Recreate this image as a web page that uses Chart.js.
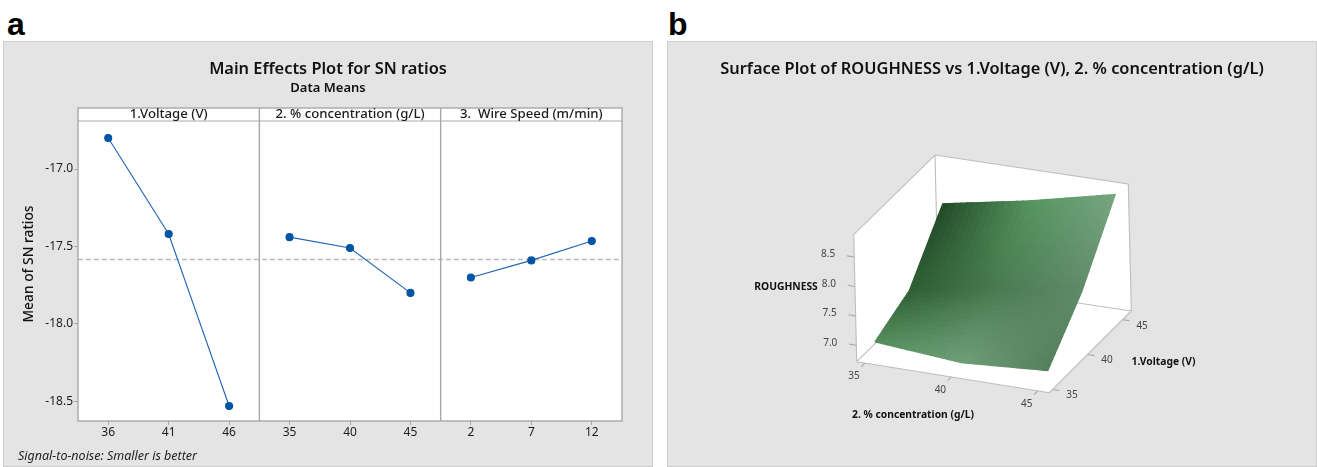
<!DOCTYPE html>
<html>
<head>
<meta charset="utf-8">
<style>
html,body{margin:0;padding:0;background:#fff;width:1317px;height:467px;overflow:hidden}
.panel{position:absolute;top:41px;width:650px;height:426px;background:#e4e4e4;box-shadow:inset 0 0 0 1px #cfcfcf}
.panel canvas{position:absolute;left:0;top:0}
.tag{position:absolute;font:bold 32px "Liberation Sans",sans-serif;color:#000;line-height:32px;top:8px}
</style>
</head>
<body>
<div class="tag" style="left:7px">a</div>
<div class="tag" style="left:668px">b</div>
<div class="panel" style="left:3px"><canvas id="effects" width="650" height="426"></canvas></div>
<div class="panel" style="left:667px"><canvas id="surface" width="650" height="426"></canvas></div>
<script src="https://cdn.jsdelivr.net/npm/chart.js@4/dist/chart.umd.min.js"></script>
<script>
// ---- Main effects data ----
const facetNames = ['1.Voltage (V)', '2. % concentration (g/L)', '3.  Wire Speed (m/min)'];
const levelLabels = ['36', '41', '46', '35', '40', '45', '2', '7', '12'];
const voltageSN = [-16.80, -17.42, -18.53];
const concentrationSN = [-17.44, -17.51, -17.80];
const wireSpeedSN = [-17.70, -17.59, -17.465];
const meanSN = -17.58;
const snTicks = [-18.5, -18.0, -17.5, -17.0];

// ---- Surface data ----
const concLevels = [35, 40, 45];
const voltLevels = [36, 41, 46];
const roughness = [            // rows: voltage, columns: concentration
  [6.91, 6.79, 6.89],
  [7.20, 7.45, 7.64],
  [8.10, 8.37, 8.70]
];
const surfaceShades = [
  ['#558d5e', '#6f9f79', '#557f5c'],
  ['#2e5f34', '#497a50', '#5f8b68'],
  ['#214a26', '#569460', '#77a681']
];
const concTicks = [35, 40, 45];
const voltTicks = [35, 40, 45];
const roughTicks = [7.0, 7.5, 8.0, 8.5];

const uiFont = '"Noto Sans", sans-serif';
const ink = '#1c1c1c';
const frame = '#a8a8a8';

// ---- Chart a ----
const pad = (arr, before) => [...Array(before).fill(null), ...arr, ...Array(6 - before).fill(null)];
const effectSeries = (arr, before) => ({
  data: pad(arr, before), borderColor: '#1f63b5', borderWidth: 1.1,
  pointBackgroundColor: '#0054a6', pointBorderColor: '#0054a6', pointRadius: 3.5, tension: 0
});
const facetPlugin = {
  id: 'facets',
  beforeDatasetsDraw(chart) {
    const {ctx, chartArea: a, scales: {x, y}} = chart;
    const step = x.getPixelForTick(1) - x.getPixelForTick(0);
    ctx.save();
    ctx.fillStyle = '#fff';
    ctx.fillRect(a.left, a.top - 13, a.width, a.height + 13);
    ctx.strokeStyle = '#bdbdbd'; ctx.lineWidth = 1.3; ctx.setLineDash([5, 3]);
    const my = Math.round(y.getPixelForValue(meanSN)) + 0.5;
    ctx.beginPath(); ctx.moveTo(a.left, my); ctx.lineTo(a.right, my); ctx.stroke();
    ctx.setLineDash([]);
    ctx.strokeStyle = frame; ctx.lineWidth = 1.4;
    ctx.strokeRect(a.left, a.top - 13, a.width, a.height + 13);
    ctx.lineWidth = 1;
    ctx.beginPath(); ctx.moveTo(a.left, a.top); ctx.lineTo(a.right, a.top); ctx.stroke();
    ctx.textAlign = 'center'; ctx.textBaseline = 'middle';
    facetNames.forEach((name, i) => {
      const first = x.getPixelForTick(i * 3) - step / 2;
      if (i > 0) {
        ctx.lineWidth = 1.4;
        ctx.beginPath(); ctx.moveTo(first, a.top - 13); ctx.lineTo(first, a.bottom); ctx.stroke();
      }
      ctx.fillStyle = ink; ctx.font = '500 13.2px ' + uiFont;
      ctx.fillText(name, first + step * 1.5, a.top - 6.5);
    });
    ctx.fillStyle = '#111';
    ctx.font = '600 16.4px ' + uiFont;
    ctx.fillText('Main Effects Plot for SN ratios', 325, 28);
    ctx.font = '600 13px ' + uiFont;
    ctx.fillText('Data Means', 325, 47);
    ctx.save();
    ctx.translate(26, 223);
    ctx.rotate(-Math.PI / 2);
    ctx.font = '500 13.8px ' + uiFont;
    ctx.fillText('Mean of SN ratios', 0, 0);
    ctx.restore();
    ctx.textAlign = 'left';
    ctx.font = 'italic 12.5px ' + uiFont;
    ctx.fillStyle = '#222';
    ctx.fillText('Signal-to-noise: Smaller is better', 15, 415);
    ctx.restore();
  }
};
new Chart(document.getElementById('effects'), {
  type: 'line',
  data: {
    labels: levelLabels,
    datasets: [effectSeries(voltageSN, 0), effectSeries(concentrationSN, 3), effectSeries(wireSpeedSN, 6)]
  },
  plugins: [facetPlugin],
  options: {
    responsive: false, animation: false, devicePixelRatio: 1,
    layout: {padding: {right: 31, top: 80}},
    plugins: {legend: {display: false}, tooltip: {enabled: false}},
    scales: {
      x: {
        offset: true,
        afterFit(s) { s.height = 46; },
        grid: {drawOnChartArea: false, drawTicks: true, tickLength: 4, color: frame},
        border: {display: false},
        ticks: {color: ink, font: {family: uiFont, size: 12}, padding: 0, autoSkip: false, maxRotation: 0}
      },
      y: {
        min: -18.627, max: -16.69,
        afterBuildTicks(s) { s.ticks = snTicks.map(value => ({value})); },
        afterFit(s) { s.width = 75; },
        grid: {drawOnChartArea: false, tickLength: 4, color: frame},
        border: {display: false},
        ticks: {color: ink, font: {family: uiFont, size: 12}, padding: 1,
          callback: v => Number(v).toFixed(1)}
      }
    }
  }
});

// ---- Chart b: oblique projection of the 3D box on hidden linear scales ----
const box = {L: [856.7, 361.7], F: [1049.3, 392.7], R: [1131.3, 311], B: [938, 282]};
const zLow = 6.72, zHigh = 8.88, rise = 127, lean = 3;
const uOf = c => 0.043 + (c - 35) / 10 * 0.897;
const wOf = v => 0.04 + (v - 35) / 10 * 0.854;
const tOf = z => (z - zLow) / (zHigh - zLow);
function place(u, w, t) {
  const mix = k => (1 - u) * (1 - w) * box.L[k] + u * (1 - w) * box.F[k] + u * w * box.R[k] + (1 - u) * w * box.B[k];
  return {x: mix(0) - lean * t, y: mix(1) - rise * t};
}
const hex = s => [1, 3, 5].map(i => parseInt(s.substr(i, 2), 16));
const lerp = (a, b, f) => a + (b - a) * f;
// Tessellation of each measured 3x3 cell: only for smooth shading of the drawn surface.
const cuts = 14;
const surfaceSets = [];
function sampleCell(r, c, fr, fc) {
  const z = lerp(lerp(roughness[r][c], roughness[r][c + 1], fc), lerp(roughness[r + 1][c], roughness[r + 1][c + 1], fc), fr);
  const cv = lerp(concLevels[c], concLevels[c + 1], fc), vv = lerp(voltLevels[r], voltLevels[r + 1], fr);
  return place(uOf(cv), wOf(vv), tOf(z));
}
function shadeCell(r, c, fr, fc) {
  const s = [surfaceShades[r][c], surfaceShades[r][c + 1], surfaceShades[r + 1][c], surfaceShades[r + 1][c + 1]].map(hex);
  return 'rgb(' + [0, 1, 2].map(k => Math.round(lerp(lerp(s[0][k], s[1][k], fc), lerp(s[2][k], s[3][k], fc), fr))).join(',') + ')';
}
for (let r = 0; r < voltLevels.length - 1; r++) {
  for (let c = 0; c < concLevels.length - 1; c++) {
    for (let i = 0; i < cuts; i++) {
      for (let j = 0; j < cuts; j++) {
        const a = i / cuts, b = (i + 1) / cuts, d = j / cuts, e = (j + 1) / cuts;
        const col = shadeCell(r, c, (a + b) / 2, (d + e) / 2);
        surfaceSets.push({
          data: [sampleCell(r, c, a, d), sampleCell(r, c, a, e), sampleCell(r, c, b, e), sampleCell(r, c, b, d), sampleCell(r, c, a, d)],
          showLine: true, fill: 'shape', backgroundColor: col, borderColor: col, borderWidth: 1.2,
          pointRadius: 0, order: 1
        });
      }
    }
  }
}
const wallFill = pts => ({data: pts, showLine: true, fill: 'shape', backgroundColor: '#fff', borderColor: '#fff',
  borderWidth: 0, pointRadius: 0, order: 4});
const edge = (pts, color) => ({data: pts, showLine: true, fill: false, borderColor: color || '#bdbdbd', borderWidth: 1.1,
  pointRadius: 0, order: 3});
const cL0 = place(0, 0, 0), cF0 = place(1, 0, 0), cR0 = place(1, 1, 0), cB0 = place(0, 1, 0);
const cL1 = place(0, 0, 1), cR1 = place(1, 1, 1), cB1 = place(0, 1, 1);
const tickSets = [
  ...roughTicks.map(z => edge([place(0, 0, tOf(z)), place(-0.037, 0, tOf(z))], '#a8a8a8')),
  ...concTicks.map(c => edge([place(uOf(c), 0, 0), place(uOf(c), -0.045, 0)], '#a8a8a8')),
  ...voltTicks.map(v => edge([place(1, wOf(v), 0), place(1.035, wOf(v), 0)], '#a8a8a8'))
];
const boxSets = [
  wallFill([cL0, cF0, cR0, cB0, cL0]), wallFill([cL0, cB0, cB1, cL1, cL0]), wallFill([cB0, cR0, cR1, cB1, cB0]),
  edge([cL0, cF0, cR0, cR1, cB1, cL1, cL0]), edge([cL0, cB0, cR0]), edge([cB0, cB1])
];
const surfaceText = {
  id: 'surfaceText',
  afterDatasetsDraw(chart) {
    const {ctx, scales: {x, y}} = chart;
    const at = p => [x.getPixelForValue(p.x), y.getPixelForValue(p.y)];
    const label = (s, p, dx, dy, font, color, align) => {
      const [px, py] = at(p);
      ctx.font = font; ctx.fillStyle = color; ctx.textAlign = align || 'center'; ctx.textBaseline = 'middle';
      ctx.fillText(s, px + dx, py + dy);
    };
    ctx.save();
    const tickFont = '10px ' + uiFont, boldFont = '700 10.3px ' + uiFont;
    roughTicks.forEach(z => label(z.toFixed(1), place(0, 0, tOf(z)), -19, -2.5, tickFont, '#444', 'right'));
    concTicks.forEach(c => label(String(c), place(uOf(c), 0, 0), -11, 13, tickFont, '#444'));
    voltTicks.forEach(v => label(String(v), place(1, wOf(v), 0), 19.5, 6, tickFont, '#444'));
    ctx.font = '600 16.4px ' + uiFont; ctx.fillStyle = '#111'; ctx.textAlign = 'center'; ctx.textBaseline = 'middle';
    ctx.fillText('Surface Plot of ROUGHNESS vs 1.Voltage (V), 2. % concentration (g/L)', 325, 28);
    label('ROUGHNESS', {x: 786, y: 287}, 0, 0, boldFont, '#111');
    label('2. % concentration (g/L)', {x: 913, y: 415}, 0, 0, boldFont, '#111');
    label('1.Voltage (V)', {x: 1163.5, y: 362}, 0, 0, boldFont, '#111');
    ctx.restore();
  }
};
new Chart(document.getElementById('surface'), {
  type: 'scatter',
  data: {datasets: [...surfaceSets, ...boxSets, ...tickSets]},
  plugins: [surfaceText],
  options: {
    responsive: false, animation: false, devicePixelRatio: 1,
    layout: {padding: 0},
    plugins: {legend: {display: false}, tooltip: {enabled: false}},
    elements: {line: {tension: 0}},
    scales: {
      x: {type: 'linear', min: 667, max: 1317, display: false},
      y: {type: 'linear', min: 41, max: 467, reverse: true, display: false}
    }
  }
});
</script>
</body>
</html>
